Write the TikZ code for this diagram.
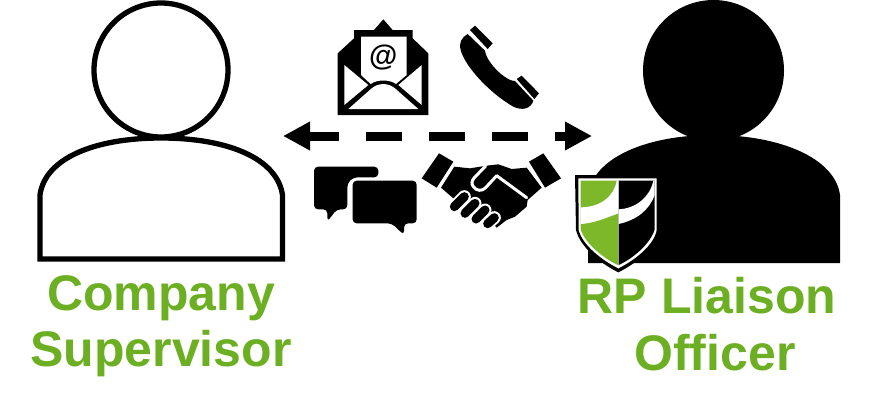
\documentclass[tikz,border=0pt]{standalone}
\usepackage{fontspec}
\setmainfont{Liberation Sans}
\usetikzlibrary{arrows.meta}
\definecolor{rpgreen}{HTML}{6CAF23}
\definecolor{shieldgreen}{HTML}{7DB82B}
\tikzset{
  x=1pt,y=-1pt,
  personline/.style={draw=black,line width=5.3pt,fill=white},
  caption/.style={text=rpgreen,font=\bfseries\fontsize{50}{57}\selectfont,inner sep=0pt,anchor=base},
  link/.style={line width=9pt,dash pattern=on 36pt off 27pt,dash phase=5pt,
     {Triangle[length=27pt,width=27pt]}-{Triangle[length=27pt,width=27pt]}},
  zoomA/.style={shift={(300,10)},x=1/3*1pt,y=-1/3*1pt},
  zoomB/.style={shift={(290,120)},x=1/3*1pt,y=-1/3*1pt},
  zoomC/.style={shift={(560,130)},x=1/3*1pt,y=-1/3*1pt},
  zoomD/.style={shift={(415,145)},x=1/3*1pt,y=-1/3*1pt},
  fingerhalo/.style={white,line width=13pt,line cap=round},
  fingerbar/.style={black,line width=9pt,line cap=round},
}
\begin{document}
\begin{tikzpicture}
\useasboundingbox (0,0) rectangle (880,413);
% left person
\node[circle,personline,minimum size=134pt,inner sep=0pt] (supHead) at (161,70) {};
\path[personline] (40,259) -- (40,195) .. controls (45,158) and (95,138) .. (161,138)
   .. controls (227,138) and (277,158) .. (282.5,195) -- (282.5,259) -- cycle;
% right person
\fill (588,263) -- (588,195) .. controls (593,158) and (646,135) .. (713,135)
   .. controls (780,135) and (835,158) .. (840,195) -- (840,263) -- cycle;
\node[circle,fill=black,minimum size=141pt,inner sep=0pt] (rpHead) at (713.5,70.5) {};
% arrow
\coordinate (linkL) at (283,136);
\coordinate (linkR) at (592,136);
\draw[link] (linkL) -- (linkR);
% envelope
\begin{scope}[zoomA]
\fill (113,315) -- (113,130) -- (162,85) -- (162,60) -- (222,60) -- (250,28) -- (278,60) -- (338,60) -- (338,85) -- (385,130) -- (385,315) -- cycle;
\fill[white] (183,80) -- (320,80) -- (320,195) -- (288,222) .. controls (270,208) and (230,208) .. (212,222) -- (183,195) -- cycle;
\fill[white] (133,165) -- (205,225) -- (133,285) -- cycle;
\fill[white] (365,165) -- (295,225) -- (365,285) -- cycle;
\fill[white] (145,297) -- (215,235) .. controls (235,218) and (265,218) .. (285,235) -- (355,297) -- cycle;
\node[inner sep=0pt,font=\bfseries\fontsize{29}{29}\selectfont] (at) at (250,143) {@};
\end{scope}
% phone
\begin{scope}[zoomA]
\fill (503,72) .. controls (485,82) and (476,98) .. (482,120)
  .. controls (495,170) and (570,250) .. (640,290) .. controls (665,302) and (692,298) .. (700,272)
  -- (645,213) .. controls (620,215) and (560,160) .. (555,122) -- cycle;
\fill (510,60) -- (525,47) -- (578,100) -- (563,117) -- cycle;
\fill (650,207) -- (665,197) -- (717,250) -- (703,267) -- cycle;
\end{scope}
% speech bubbles
\begin{scope}[zoomB]
\fill[rounded corners=4pt] (72,140) -- (265,140) -- (265,172) -- (190,172) -- (172,190) -- (172,268) -- (140,268) -- (112,305) -- (112,268) -- (72,268) -- cycle;
\fill[rounded corners=4pt] (188,182) -- (380,182) -- (380,310) -- (342,310) -- (342,345) -- (305,310) -- (188,310) -- cycle;
\end{scope}
% handshake
\begin{scope}[zoomD]
\fill (72,25) -- (115,50) -- (65,128) -- (20,100) -- cycle;
\fill (385,25) -- (438,100) -- (390,128) -- (342,50) -- cycle;
\fill (78,128) -- (118,65) -- (165,70) -- (215,62) -- (250,58) -- (290,72) -- (335,68) -- (380,128)
  -- (338,165) -- (335,185) -- (300,215) -- (275,225) -- (245,248) -- (225,225) -- (150,145) -- (115,160) -- cycle;
\draw[white,line width=3pt,line join=round,line cap=round] (335,158) -- (245,92) -- (212,128)
  .. controls (200,140) and (185,138) .. (175,125) .. controls (168,115) and (170,108) .. (178,98) -- (212,63);
\draw[fingerhalo] (238,218) -- (218,236);
\draw[fingerbar] (238,218) -- (218,236);
\draw[fingerhalo] (210,195) -- (183,222);
\draw[fingerbar] (210,195) -- (183,222);
\draw[fingerhalo] (180,175) -- (150,205);
\draw[fingerbar] (180,175) -- (150,205);
\draw[fingerhalo] (148,155) -- (118,185);
\draw[fingerbar] (148,155) -- (118,185);
\end{scope}
% shield
\begin{scope}[zoomC]
\fill (45,135) -- (298,135) -- (298,300) .. controls (290,350) and (230,400) .. (175,427) .. controls (120,400) and (60,350) .. (48,300) -- cycle;
\path[fill=white] (55,145) -- (290,145) -- (290,300) .. controls (282,345) and (225,390) .. (175,415) .. controls (125,390) and (68,345) .. (56,300) -- cycle;
\fill[shieldgreen] (62,152) -- (174,152) -- (174,405) .. controls (130,385) and (75,340) .. (62,298) -- cycle;
\fill (176,152) -- (284,152) -- (284,298) .. controls (272,340) and (220,385) .. (176,405) -- cycle;
\fill[white] (62,232) .. controls (120,232) and (162,200) .. (170,152) -- (175,152) -- (175,250) .. controls (135,265) and (100,280) .. (62,282) -- cycle;
\fill[white] (176,238) .. controls (230,235) and (270,200) .. (280,152) -- (284,152) -- (284,195) .. controls (268,240) and (230,270) .. (176,282) -- cycle;
\end{scope}
% captions
\node[caption] (supName1) at (161,310) {Company};
\node[caption] (supName2) at (161,366) {Supervisor};
\node[caption] (rpName1) at (707,313) {RP Liaison};
\node[caption] (rpName2) at (715,370) {Officer};
\end{tikzpicture}
\end{document}
